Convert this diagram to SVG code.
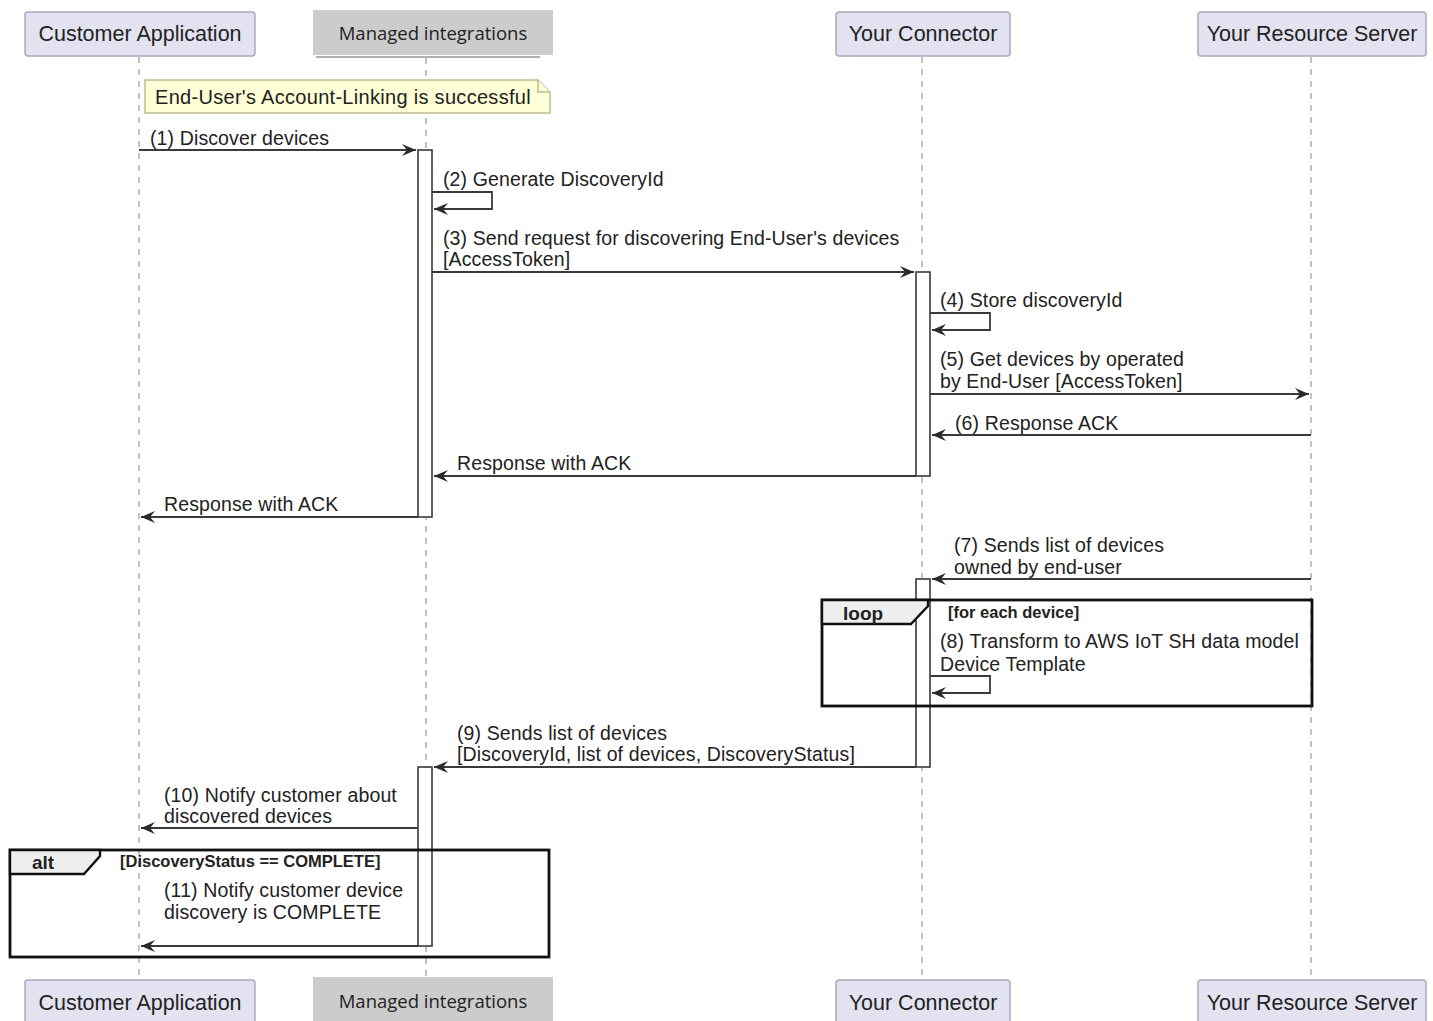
<svg xmlns="http://www.w3.org/2000/svg" width="1433" height="1021" viewBox="0 0 1433 1021">
  <style>
    .part rect { fill: #E2E2F0; stroke: #A9A9BE; stroke-width: 1.5; }
    .part text { font-family: "Liberation Sans", Arial, sans-serif; font-size: 21.5px; fill: #222; text-anchor: middle; }
    .mi rect { fill: #CCCCCC; }
    .mi text { font-family: "Open Sans", "Liberation Sans", sans-serif; font-size: 18.5px; fill: #222; text-anchor: middle; }
    .life { stroke: #ADADAD; stroke-width: 1.5; stroke-dasharray: 6 6; fill: none; }
    .act { fill: #FFFFFF; stroke: #3A3A3A; stroke-width: 1.6; }
    .msg { stroke: #3A3A3A; stroke-width: 1.8; fill: none; }
    .lbl { font-family: "Liberation Sans", Arial, sans-serif; font-size: 19.5px; letter-spacing: 0.12px; fill: #222; }
    .notetxt { font-family: "Liberation Sans", Arial, sans-serif; font-size: 20px; letter-spacing: 0.3px; fill: #222; }
    .frame { fill: none; stroke: #111; stroke-width: 2.8; }
    .tab { fill: #EEEEEE; stroke: #111; stroke-width: 2.4; }
    .tabtxt { font-family: "Liberation Sans", Arial, sans-serif; font-size: 19px; font-weight: bold; fill: #222; }
    .cond { font-family: "Liberation Sans", Arial, sans-serif; font-size: 16.5px; font-weight: bold; fill: #222; }
    .note { fill: #FEFFD6; stroke: #BDBD90; stroke-width: 1.5; }
  </style>
  <defs>
    <marker id="arrow" markerUnits="userSpaceOnUse" viewBox="0 -7 15 14" refX="14" refY="0" markerWidth="15" markerHeight="14" orient="auto">
      <path d="M0,-6 L14,0 L0,6 L5,0 Z" fill="#2A2A2A"/>
    </marker>
  </defs>

  <rect width="1433" height="1021" fill="#FFFFFF"/>

  <!-- lifelines -->
  <g id="lifelines">
    <line class="life" x1="139" y1="57" x2="139" y2="980"/>
    <line class="life" x1="426" y1="58" x2="426" y2="977"/>
    <line class="life" x1="922" y1="57" x2="922" y2="980"/>
    <line class="life" x1="1311" y1="57" x2="1311" y2="980"/>
  </g>

  <!-- participants, top -->
  <g id="customer-app-top" class="part">
    <rect x="25" y="12" width="230" height="44" rx="3"/>
    <text x="140" y="41">Customer Application</text>
  </g>
  <g id="managed-integrations-top" class="mi">
    <rect x="313" y="10" width="240" height="45"/>
    <line x1="316" y1="57" x2="540" y2="57" stroke="#B0B0B0" stroke-width="2"/>
    <text x="433" y="40">Managed integrations</text>
  </g>
  <g id="connector-top" class="part">
    <rect x="836" y="12" width="174" height="44" rx="3"/>
    <text x="923" y="41">Your Connector</text>
  </g>
  <g id="resource-server-top" class="part">
    <rect x="1198" y="12" width="228" height="44" rx="3"/>
    <text x="1312" y="41">Your Resource Server</text>
  </g>

  <!-- note -->
  <g id="note-account-linking">
    <path class="note" d="M145,80 H538 L550,92 V113 H145 Z"/>
    <path class="note" d="M538,80 V92 H550" fill="none"/>
    <text class="notetxt" x="155" y="104">End-User's Account-Linking is successful</text>
  </g>

  <!-- activation bars -->
  <g id="activations">
    <rect class="act" x="418" y="150" width="14" height="367"/>
    <rect class="act" x="916" y="272" width="14" height="204"/>
    <rect class="act" x="916" y="579" width="14" height="188"/>
    <rect class="act" x="418" y="767" width="14" height="179"/>
  </g>

  <!-- combined fragments -->
  <g id="loop-fragment">
    <rect class="frame" x="822" y="600" width="490" height="106"/>
    <path class="tab" d="M822,600 H928 V606 L911,624 H822 Z"/>
    <text class="tabtxt" x="843" y="620">loop</text>
    <text class="cond" x="948" y="618">[for each device]</text>
  </g>
  <g id="alt-fragment">
    <rect class="frame" x="10" y="850" width="539" height="107"/>
    <path class="tab" d="M10,850 H100 V856 L84,874 H10 Z"/>
    <text class="tabtxt" x="32" y="869">alt</text>
    <text class="cond" x="120" y="867">[DiscoveryStatus == COMPLETE]</text>
  </g>

  <!-- messages -->
  <g id="connectors">
    <line class="msg" x1="139" y1="150" x2="416" y2="150" marker-end="url(#arrow)"/>
    <polyline class="msg" points="432,192 492,192 492,209 434,209" marker-end="url(#arrow)"/>
    <line class="msg" x1="432" y1="272" x2="914" y2="272" marker-end="url(#arrow)"/>
    <polyline class="msg" points="930,313 990,313 990,330 932,330" marker-end="url(#arrow)"/>
    <line class="msg" x1="930" y1="394" x2="1309" y2="394" marker-end="url(#arrow)"/>
    <line class="msg" x1="1311" y1="435" x2="932" y2="435" marker-end="url(#arrow)"/>
    <line class="msg" x1="916" y1="476" x2="434" y2="476" marker-end="url(#arrow)"/>
    <line class="msg" x1="418" y1="517" x2="141" y2="517" marker-end="url(#arrow)"/>
    <line class="msg" x1="1311" y1="579" x2="932" y2="579" marker-end="url(#arrow)"/>
    <polyline class="msg" points="930,676 990,676 990,693 932,693" marker-end="url(#arrow)"/>
    <line class="msg" x1="916" y1="767" x2="434" y2="767" marker-end="url(#arrow)"/>
    <line class="msg" x1="418" y1="828" x2="141" y2="828" marker-end="url(#arrow)"/>
    <line class="msg" x1="418" y1="946" x2="141" y2="946" marker-end="url(#arrow)"/>
  </g>

  <!-- message labels -->
  <g id="labels">
    <text class="lbl" x="150" y="145">(1) Discover devices</text>
    <text class="lbl" x="443" y="186">(2) Generate DiscoveryId</text>
    <text class="lbl" x="443" y="245">(3) Send request for discovering End-User's devices</text>
    <text class="lbl" x="443" y="266">[AccessToken]</text>
    <text class="lbl" x="940" y="307">(4) Store discoveryId</text>
    <text class="lbl" x="940" y="366">(5) Get devices by operated</text>
    <text class="lbl" x="940" y="388">by End-User [AccessToken]</text>
    <text class="lbl" x="955" y="430">(6) Response ACK</text>
    <text class="lbl" x="457" y="470">Response with ACK</text>
    <text class="lbl" x="164" y="511">Response with ACK</text>
    <text class="lbl" x="954" y="552">(7) Sends list of devices</text>
    <text class="lbl" x="954" y="574">owned by end-user</text>
    <text class="lbl" x="940" y="648">(8) Transform to AWS IoT SH data model</text>
    <text class="lbl" x="940" y="671">Device Template</text>
    <text class="lbl" x="457" y="740">(9) Sends list of devices</text>
    <text class="lbl" x="457" y="761">[DiscoveryId, list of devices, DiscoveryStatus]</text>
    <text class="lbl" x="164" y="802">(10) Notify customer about</text>
    <text class="lbl" x="164" y="823">discovered devices</text>
    <text class="lbl" x="164" y="897">(11) Notify customer device</text>
    <text class="lbl" x="164" y="919">discovery is COMPLETE</text>
  </g>

  <!-- participants, bottom -->
  <g id="customer-app-bottom" class="part">
    <rect x="25" y="980" width="230" height="46" rx="3"/>
    <text x="140" y="1010">Customer Application</text>
  </g>
  <g id="managed-integrations-bottom" class="mi">
    <rect x="313" y="977" width="240" height="48"/>
    <text x="433" y="1008">Managed integrations</text>
  </g>
  <g id="connector-bottom" class="part">
    <rect x="836" y="980" width="174" height="46" rx="3"/>
    <text x="923" y="1010">Your Connector</text>
  </g>
  <g id="resource-server-bottom" class="part">
    <rect x="1198" y="980" width="228" height="46" rx="3"/>
    <text x="1312" y="1010">Your Resource Server</text>
  </g>
</svg>
